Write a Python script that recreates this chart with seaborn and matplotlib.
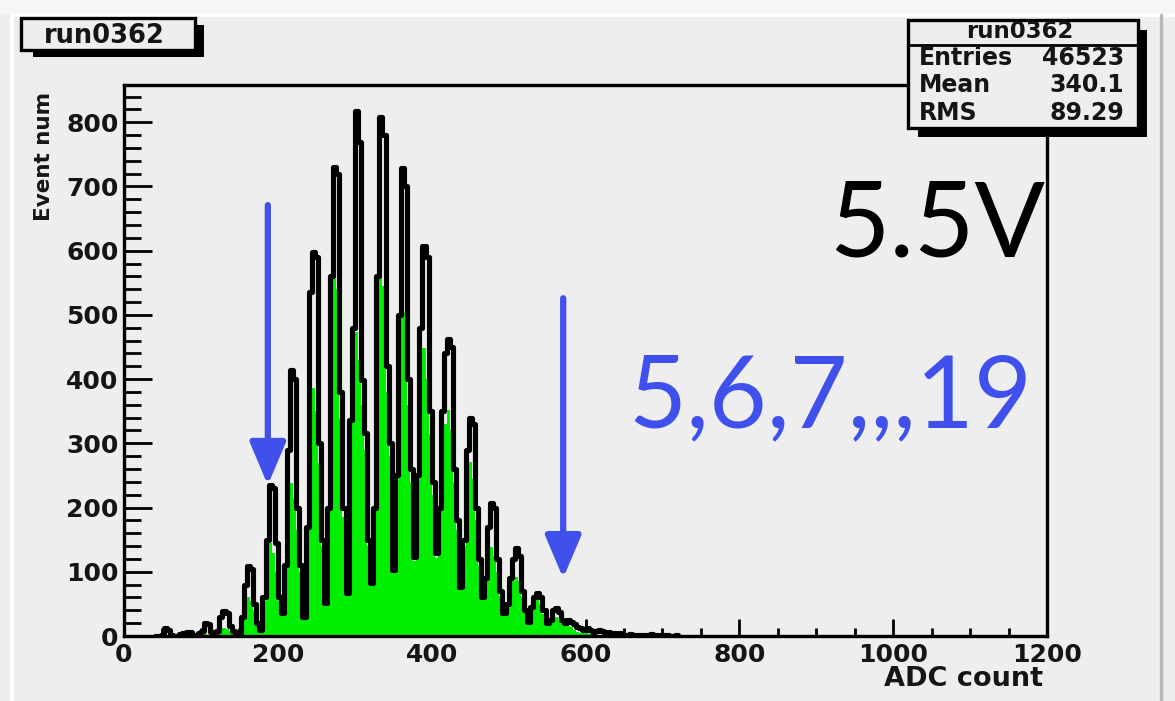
import numpy as np
import pandas as pd
import matplotlib
matplotlib.use("Agg")
import matplotlib.pyplot as plt
from matplotlib.patches import Rectangle
from matplotlib.lines import Line2D
from matplotlib.ticker import MultipleLocator
import seaborn as sns

# --- data ---
run_name = "run0362"
stat_labels = ["Entries", "Mean", "RMS"]
stat_values = ["46523", "340.1", "89.29"]

adc_start = 40      # first bin edge (ADC)
bin_width = 4       # ADC per bin

# total spectrum (black outline), one value per bin from 40 ADC
all_counts = [
    0, 0, 2, 12, 10, 2, 0, 0, 3, 5, 6, 6, 2, 0, 4, 8, 20, 18, 6, 4, 8,
    30, 39, 36, 15, 8, 5, 5,
    30, 80, 109, 105, 50, 20, 10,
    60, 150, 235, 230, 145, 60, 36,
    110, 290, 414, 400, 200, 110, 30,
    170, 535, 598, 590, 300, 150, 51,
    200, 560, 731, 720, 380, 200, 67,
    336, 479, 818, 769, 398, 316, 150, 82,
    200, 560, 808, 780, 420, 300, 103,
    250, 500, 728, 700, 400, 260, 123,
    250, 480, 608, 590, 350, 240, 129,
    200, 350, 440, 462, 450, 260, 180, 77,
    150, 290, 340, 330, 200, 120, 61,
    90, 170, 207, 200, 120, 70, 36,
    50, 90, 120, 137, 125, 70, 40, 22,
    45, 60, 67, 60, 40, 20,
    25, 40, 44, 38, 25, 20,
    25, 22, 18, 14, 12, 10, 12, 9, 6, 8, 10, 8, 5, 6, 4, 5, 3, 4,
    2, 2, 3, 2, 1, 2, 1, 1, 1, 3, 1, 1, 0, 1, 2, 0, 0, 1,
]

# selected part (green fill), same bins
green_counts = [
    0, 0, 0, 0, 0, 0, 0, 0, 0, 0, 0, 0, 0, 0, 0, 0, 3, 2, 0, 0, 4,
    10, 12, 11, 8, 5, 4, 4,
    28, 52, 60, 55, 40, 18, 9,
    55, 130, 145, 130, 100, 55, 34,
    100, 215, 238, 215, 165, 100, 28,
    160, 350, 386, 350, 270, 140, 48,
    190, 520, 605, 540, 340, 185, 64,
    310, 430, 473, 430, 360, 290, 140, 78,
    190, 520, 605, 545, 380, 280, 98,
    235, 460, 560, 505, 360, 240, 117,
    235, 400, 448, 400, 315, 220, 122,
    185, 300, 330, 352, 320, 240, 165, 73,
    140, 240, 271, 245, 180, 110, 58,
    85, 125, 139, 125, 100, 62, 34,
    46, 75, 85, 92, 85, 62, 36, 20,
    40, 50, 56, 50, 35, 18,
    22, 30, 30, 28, 22, 17,
    15, 14, 10, 7, 5, 4, 4, 3, 2, 2, 1, 0, 0, 0, 0, 0, 0, 0,
    0, 0, 0, 0, 0, 0, 0, 0, 0, 0, 0, 0, 0, 0, 0, 0, 0, 0,
]

x_ticks = [0, 200, 400, 600, 800, 1000, 1200]
y_ticks = [0, 100, 200, 300, 400, 500, 600, 700, 800]

voltage_note = "5.5V"
peaks_note = "5,6,7,,,19"
arrow_x = [187, 571]        # ADC
arrow_top = [671, 526]      # counts
arrow_tip = [235, 90]

# --- style ---
sns.set_theme(style="ticks")
plt.rcParams["font.family"] = ["DejaVu Sans"]
plt.rcParams["font.weight"] = "bold"

W, H = 1175, 701
BG = "#eeeeee"
BLUE = "#4050ec"
INK = "#151515"


def fx(px):
    return px / W


def fy(py):
    return 1 - py / H


fig = plt.figure(figsize=(W / 100, H / 100), dpi=100, facecolor=BG)

# canvas edges
fig.add_artist(Rectangle((0, fy(14)), 1, 14 / H, color="#f6f6f6", lw=0, zorder=0))
fig.add_artist(Line2D([fx(11), 1], [fy(15), fy(15)], color="white", lw=2.5, zorder=0))
fig.add_artist(Line2D([fx(12), fx(12)], [0, fy(15)], color="white", lw=3, zorder=0))
fig.add_artist(Line2D([fx(1161), fx(1161)], [0, fy(15)], color="#b8b8b8", lw=2.5, zorder=0))

ax = fig.add_axes([fx(124), fy(636), (1047 - 124) / W, (636 - 85) / H])
ax.set_facecolor(BG)

edges = (adc_start + bin_width * np.arange(len(all_counts) + 1)).astype(float).tolist()
df = pd.DataFrame({
    "adc": [e + bin_width / 2 for e in edges[:-1]],
    "all": all_counts,
    "green": green_counts,
})

sns.histplot(data=df, x="adc", weights="green", bins=edges, element="step",
             fill=True, color="#00ee00", alpha=1, linewidth=0, ax=ax)
sns.histplot(data=df, x="adc", weights="all", bins=edges, element="step",
             fill=False, color="black", linewidth=3.7, ax=ax)

ax.set_xlim(0, 1200)
ax.set_ylim(0, 858)
ax.set_xticks(x_ticks)
ax.set_yticks(y_ticks)
ax.xaxis.set_minor_locator(MultipleLocator(50))
ax.yaxis.set_minor_locator(MultipleLocator(20))
ax.set_xlabel("")
ax.set_ylabel("")
ax.tick_params(which="both", direction="in", color="black", width=2,
               labelsize=18, labelcolor=INK)
ax.tick_params(axis="x", which="major", length=12.5, pad=5)
ax.tick_params(axis="x", which="minor", length=6)
ax.tick_params(axis="y", which="major", length=20, pad=4)
ax.tick_params(axis="y", which="minor", length=12)
for lab in ax.get_xticklabels() + ax.get_yticklabels():
    lab.set_fontweight("bold")
for sp in ax.spines.values():
    sp.set_linewidth(2.4)
    sp.set_color("black")

fig.text(fx(44), fy(92), "Event num", rotation=90, ha="center", va="top",
         fontsize=15.5, color=INK, fontweight="bold")
fig.text(fx(1043), fy(686), "ADC count", ha="right", va="baseline",
         fontsize=19.5, color=INK, fontweight="bold")

# arrows and notes
for x0, y0, y1 in zip(arrow_x, arrow_top, arrow_tip):
    ax.annotate("", xy=(x0, y1), xytext=(x0, y0),
                arrowprops=dict(arrowstyle="-|>,head_length=1.3,head_width=0.55",
                                color=BLUE, lw=4.5, shrinkA=0, shrinkB=0,
                                mutation_scale=20))

fig.text(fx(1045), fy(257), voltage_note, ha="right", va="baseline",
         fontsize=75, color="black", fontweight="normal",
         family=["Lato", "DejaVu Sans"])
fig.text(fx(628), fy(427), peaks_note, ha="left", va="baseline",
         fontsize=72, color=BLUE, fontweight="normal",
         family=["Lato", "DejaVu Sans"])

# title box
fig.add_artist(Rectangle((fx(33), fy(57)), (204 - 33) / W, (57 - 25) / H,
                         color="black", lw=0, zorder=4))
fig.add_artist(Rectangle((fx(21), fy(50)), (195 - 21) / W, (50 - 18) / H,
                         facecolor=BG, edgecolor="black", lw=2.4, zorder=4))
fig.text(fx(104), fy(43), run_name, ha="center", va="baseline", fontsize=18.5,
         color=INK, fontweight="bold", zorder=5)

# stats box
fig.add_artist(Rectangle((fx(918), fy(137)), (1147 - 918) / W, (137 - 30) / H,
                         color="black", lw=0, zorder=4))
fig.add_artist(Rectangle((fx(908), fy(128)), (1138 - 908) / W, (128 - 20) / H,
                         facecolor=BG, edgecolor="black", lw=2.4, zorder=4))
fig.add_artist(Line2D([fx(908), fx(1138)], [fy(45), fy(45)], color="black",
                      lw=2, zorder=5))
fig.text(fx(1020), fy(38), run_name, ha="center", va="baseline", fontsize=16.5,
         color=INK, fontweight="bold", zorder=6)
for i, (lab, val) in enumerate(zip(stat_labels, stat_values)):
    yb = 65 + 27.5 * i
    fig.text(fx(919), fy(yb), lab, ha="left", va="baseline", fontsize=17,
             color=INK, fontweight="bold", zorder=6)
    fig.text(fx(1124), fy(yb), val, ha="right", va="baseline", fontsize=17,
             color=INK, fontweight="bold", zorder=6)

fig.savefig("out.png", dpi=100, facecolor=BG)
